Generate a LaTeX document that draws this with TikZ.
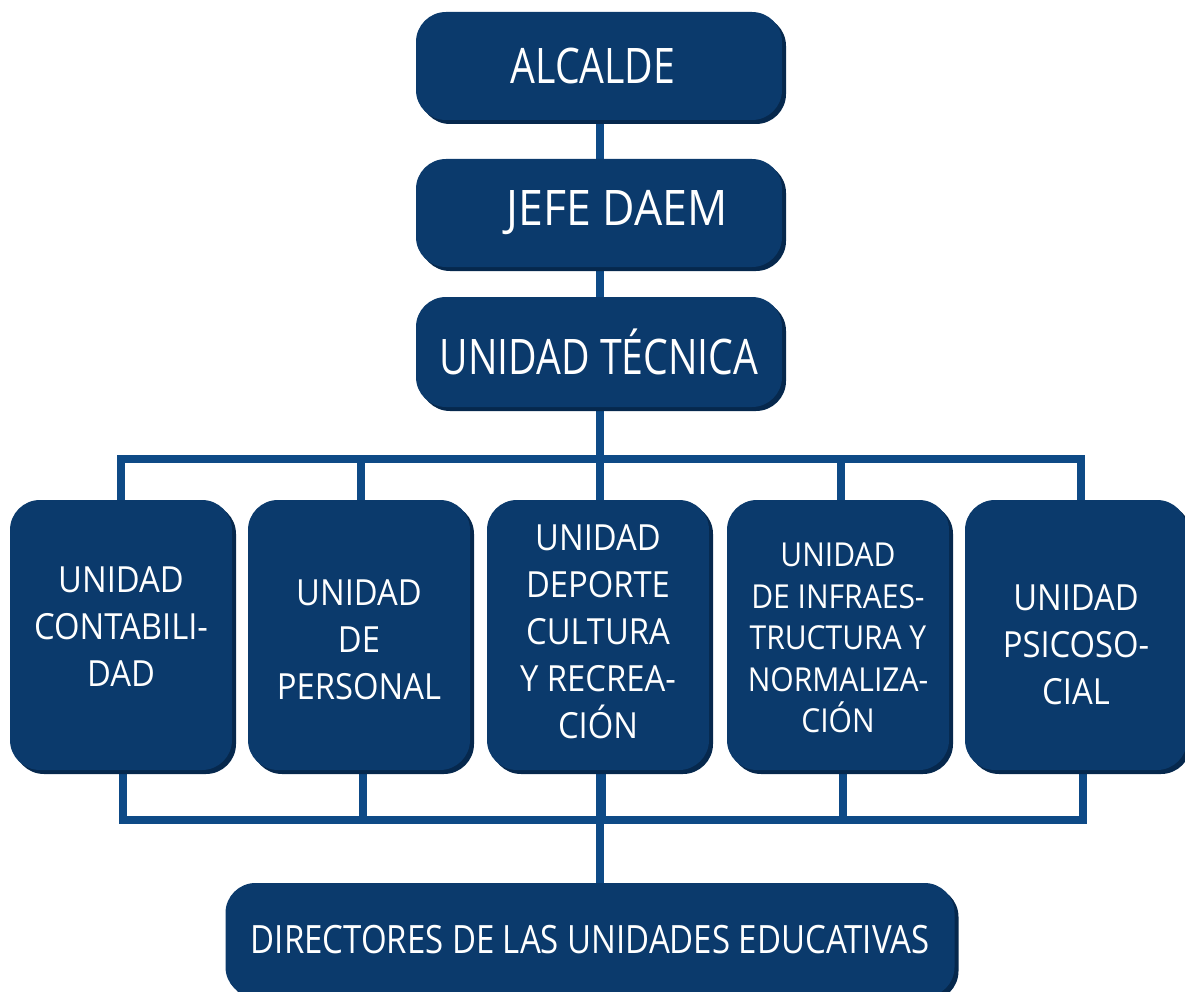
\documentclass[tikz,border=0pt]{standalone}
\usepackage{fontspec}
\setmainfont{Open Sans}[FakeStretch=0.8]
\newfontfamily\unitfont{Open Sans}[FakeStretch=0.91]
\newfontfamily\dirfont{Open Sans}[FakeStretch=0.845]
\usetikzlibrary{shadows}
\definecolor{boxblue}{HTML}{0B3A6C}
\definecolor{shadowblue}{HTML}{06284D}
\definecolor{lineblue}{HTML}{0E4A86}
\begin{document}
\begin{tikzpicture}[x=1pt,y=-1pt,
  orgbox/.style={fill=boxblue, rounded corners=30pt, text=white, align=center,
    inner sep=0pt,
    drop shadow={shadow xshift=4pt, shadow yshift=-4pt, fill=shadowblue, opacity=1}},
  topbox/.style={orgbox, minimum width=366pt, minimum height=108pt, font=\fontsize{49}{55}\selectfont},
  unitbox/.style={orgbox, minimum width=222pt, minimum height=270pt},
  unittext/.style={text=white, align=center, inner sep=0pt, font=\unitfont\fontsize{36}{47}\selectfont},
  conn/.style={draw=lineblue, line width=8pt}]
\useasboundingbox (0,0) rectangle (1185,992);
\clip (0,0) rectangle (1185,992);
% connectors (behind boxes)
\coordinate (t1) at (121,459);
\coordinate (t2) at (361,459);
\coordinate (t3) at (600,459);
\coordinate (t4) at (841,459);
\coordinate (t5) at (1081,459);
\coordinate (b1) at (123,820);
\coordinate (b2) at (363,820);
\coordinate (b3) at (602,820);
\coordinate (b4) at (843,820);
\coordinate (b5) at (1083,820);
\draw[conn] (600,100) -- (600,900);
\draw[conn] ([xshift=-4pt]t1) -- ([xshift=4pt]t5);
\draw[conn] ([xshift=-4pt]b1) -- ([xshift=4pt]b5);
\foreach \i in {1,...,5}{
  \draw[conn] (t\i) -- ++(0,60);
  \draw[conn] (b\i) -- ++(0,-60);
}
% boxes
\node[topbox] (alcalde) at (599,66) {ALCALDE\hspace{12pt}};
\node[topbox, font=\unitfont\fontsize{49}{55}\selectfont] (jefe) at (599,213) {\hspace{36pt}JEFE DAEM};
\node[topbox, minimum height=110pt] (tecnica) at (599,352) {UNIDAD TÉCNICA};
\node[unitbox] (u1) at (121,635) {};
\node[unitbox] (u2) at (359,635) {};
\node[unitbox] (u3) at (598,635) {};
\node[unitbox] (u4) at (838,635) {};
\node[unitbox] (u5) at (1076,635) {};
\node[unittext] (u1t) at ([yshift=8pt]u1.center) {UNIDAD\\CONTABILI-\\DAD};
\node[unittext] (u2t) at ([yshift=-5pt]u2.center) {UNIDAD\\DE\\PERSONAL};
\node[unittext] (u3t) at ([yshift=3pt]u3.center) {UNIDAD\\DEPORTE\\CULTURA\\Y RECREA-\\CIÓN};
\node[unittext, font=\unitfont\fontsize{33}{41.5}\selectfont] (u4t) at ([yshift=-3pt]u4.center) {UNIDAD\\DE INFRAES-\\TRUCTURA Y\\NORMALIZA-\\CIÓN};
\node[unittext] (u5t) at ([yshift=-10pt]u5.center) {UNIDAD\\PSICOSO-\\CIAL};
\node[orgbox, minimum width=729pt, minimum height=114pt, font=\dirfont\fontsize{39}{44}\selectfont] (dir) at (590,940) {DIRECTORES DE LAS UNIDADES EDUCATIVAS};
\end{tikzpicture}
\end{document}
